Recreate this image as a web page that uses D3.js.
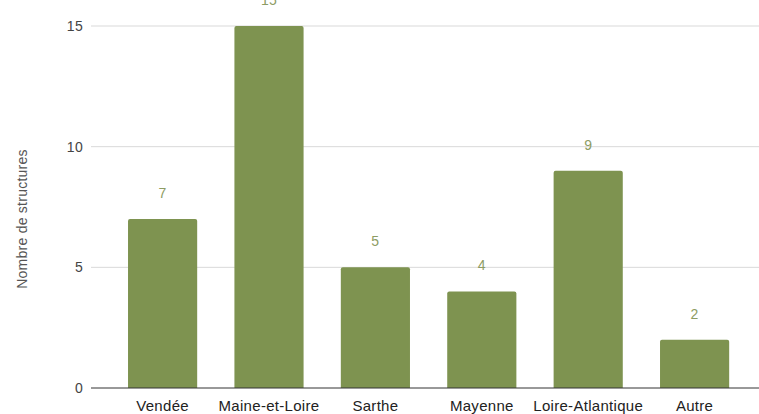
<!DOCTYPE html>
<meta charset="utf-8">
<style>
	body { margin: 0; background: #fff; }
	svg { font-family: "Liberation Sans", Arial, sans-serif; }
</style>
<body>
	<script src="https://d3js.org/d3.v7.min.js"></script>
	<script>
		var categories = ["Vendée", "Maine-et-Loire", "Sarthe", "Mayenne", "Loire-Atlantique", "Autre"];
		var values = [7, 15, 5, 4, 9, 2];
		var yTicks = [0, 5, 10, 15];

		var width = 759, height = 414;
		var plotLeft = 91, plotRight = 759;
		var baseY = 388, topY = 26;

		var svg = d3.select("body").append("svg")
			.attr("width", width)
			.attr("height", height);

		var x = d3.scaleBand()
			.domain(categories)
			.range([109.4, 747.8])
			.paddingInner(0.35)
			.paddingOuter(0.175);

		var y = d3.scaleLinear()
			.domain([0, 15])
			.range([baseY, topY]);

		// gridlines
		svg.selectAll("line.grid")
			.data(yTicks.filter(function(d) { return d > 0; }))
			.enter()
			.append("line")
			.attr("class", "grid")
			.attr("x1", plotLeft)
			.attr("x2", plotRight)
			.attr("y1", function(d) { return y(d); })
			.attr("y2", function(d) { return y(d); })
			.attr("stroke", "#d9d9d9")
			.attr("stroke-width", 1);

		// tick labels
		svg.selectAll("text.ytick")
			.data(yTicks)
			.enter()
			.append("text")
			.attr("class", "ytick")
			.attr("x", 83)
			.attr("y", function(d) { return y(d) + 5; })
			.attr("text-anchor", "end")
			.attr("font-size", "14px")
			.attr("letter-spacing", "0.3px")
			.attr("fill", "#444")
			.text(function(d) { return d; });

		// bars, rounded top corners
		svg.selectAll("path.bar")
			.data(values)
			.enter()
			.append("path")
			.attr("class", "bar")
			.attr("fill", "#7e9350")
			.attr("d", function(d, i) {
				var x0 = x(categories[i]), w = x.bandwidth(), y0 = y(d), r = 2;
				return "M" + x0 + "," + baseY +
					"V" + (y0 + r) +
					"Q" + x0 + "," + y0 + " " + (x0 + r) + "," + y0 +
					"H" + (x0 + w - r) +
					"Q" + (x0 + w) + "," + y0 + " " + (x0 + w) + "," + (y0 + r) +
					"V" + baseY + "Z";
			});

		// value labels
		svg.selectAll("text.val")
			.data(values)
			.enter()
			.append("text")
			.attr("class", "val")
			.attr("x", function(d, i) { return x(categories[i]) + x.bandwidth() / 2; })
			.attr("y", function(d) { return y(d) - 21; })
			.attr("text-anchor", "middle")
			.attr("font-size", "14px")
			.attr("letter-spacing", "0.3px")
			.attr("fill", "#8d9c63")
			.text(function(d) { return d; });

		// baseline
		svg.append("line")
			.attr("x1", plotLeft)
			.attr("x2", plotRight)
			.attr("y1", baseY)
			.attr("y2", baseY)
			.attr("stroke", "#333")
			.attr("stroke-width", 1);

		// category labels
		svg.selectAll("text.cat")
			.data(categories)
			.enter()
			.append("text")
			.attr("class", "cat")
			.attr("x", function(d) { return x(d) + x.bandwidth() / 2; })
			.attr("y", 411)
			.attr("text-anchor", "middle")
			.attr("font-size", "15px")
			.attr("letter-spacing", "0.3px")
			.attr("fill", "#222")
			.text(function(d) { return d; });

		// y title
		svg.append("text")
			.attr("transform", "translate(27," + 219 + ") rotate(-90)")
			.attr("text-anchor", "middle")
			.attr("font-size", "14px")
			.attr("letter-spacing", "0.25px")
			.attr("fill", "#555")
			.text("Nombre de structures");
	</script>
</body>
